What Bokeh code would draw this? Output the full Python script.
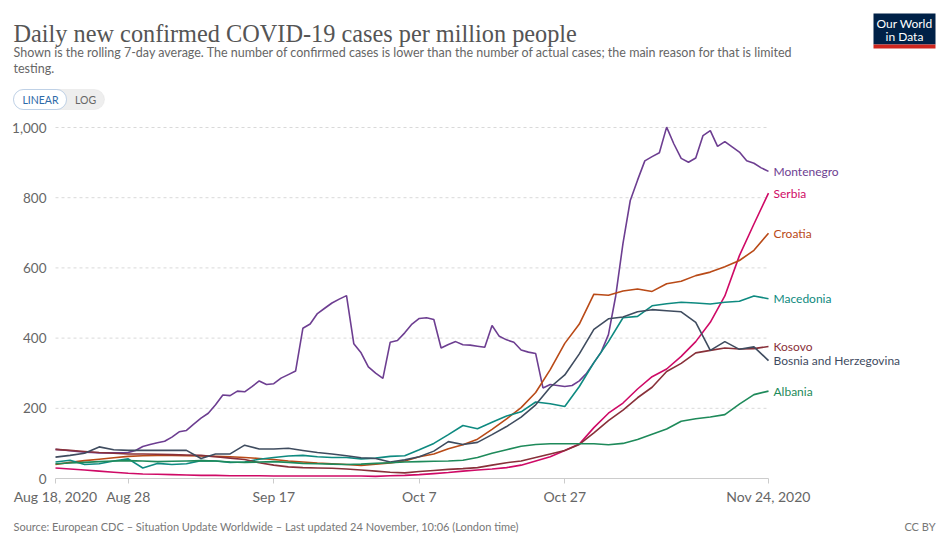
from datetime import datetime, timedelta
from bokeh.plotting import figure
from bokeh.models import Range1d, FixedTicker, NumeralTickFormatter, BoxAnnotation
from bokeh.core.properties import value
from bokeh.embed import file_html
from bokeh.resources import INLINE

# ---------------- data ----------------
start = datetime(2020, 8, 18)
end = datetime(2020, 11, 24)
dates_daily = [start + timedelta(days=i) for i in range(99)]
dates_2day = [start + timedelta(days=2 * i) for i in range(50)]

montenegro = [83, 81, 79, 77, 75, 74, 73, 73, 73, 73,
              74, 80, 91, 97, 102, 106, 118, 133, 137, 155,
              172, 186, 210, 238, 236, 249, 247, 262, 278, 268,
              270, 286, 296, 306, 428, 440, 470, 485, 500, 511,
              521, 384, 358, 318, 300, 285, 388, 393, 415, 440,
              456, 458, 453, 372, 382, 390, 381, 380, 377, 374,
              436, 405, 395, 388, 366, 360, 356, 258, 268, 265,
              262, 265, 278, 300, 330, 360, 410, 520, 670, 792,
              850, 905, 917, 928, 1001, 953, 912, 901, 913, 977,
              991, 946, 960, 945, 930, 905, 898, 885, 875]

serbia = [30, 27, 24, 21, 18, 15, 13, 12, 11, 10,
          9, 9, 8, 8, 8, 7, 7, 7, 7, 7,
          7, 7, 6, 8, 9, 11, 14, 17, 21, 24,
          27, 31, 38, 50, 62, 80, 98, 145, 186, 215,
          255, 290, 312, 348, 390, 445, 520, 635, 725, 813]

croatia = [40, 46, 51, 55, 59, 63, 65, 66, 66, 65,
           64, 63, 62, 60, 57, 54, 50, 47, 44, 42,
           40, 37, 41, 44, 50, 62, 70, 85, 96, 112,
           140, 170, 202, 245, 310, 385, 440, 525, 522, 534,
           540, 533, 555, 562, 578, 588, 603, 621, 650, 699]

macedonia = [47, 52, 40, 42, 50, 56, 30, 43, 40, 42,
             51, 50, 46, 47, 55, 60, 64, 66, 62, 60,
             60, 56, 58, 63, 65, 82, 100, 125, 151, 142,
             160, 178, 190, 218, 213, 205, 262, 330, 390, 458,
             462, 492, 498, 502, 500, 497, 502, 505, 520, 512]

kosovo = [83, 80, 77, 74, 72, 70, 70, 69, 68, 67,
          66, 62, 58, 54, 45, 38, 33, 31, 30, 29,
          27, 24, 21, 18, 16, 20, 23, 26, 28, 31,
          38, 45, 50, 60, 70, 80, 97, 130, 165, 195,
          230, 260, 305, 328, 358, 365, 372, 369, 370, 376]

bosnia = [61, 66, 72, 90, 82, 80, 80, 80, 80, 80,
          57, 70, 70, 95, 84, 84, 86, 80, 74, 70,
          65, 59, 57, 47, 53, 62, 78, 105, 97, 103,
          125, 148, 175, 210, 260, 295, 355, 425, 455, 460,
          475, 481, 478, 475, 445, 365, 390, 368, 375, 336]

albania = [42, 44, 46, 48, 50, 51, 50, 48, 49, 50,
           51, 50, 47, 46, 47, 48, 46, 43, 42, 41,
           40, 41, 43, 45, 47, 48, 49, 50, 52, 60,
           72, 82, 92, 97, 99, 99, 99, 99, 96, 100,
           111, 126, 141, 163, 170, 175, 182, 212, 239, 249]

series = [
    ("Montenegro", dates_daily, montenegro, "#6D3E91"),
    ("Serbia", dates_2day, serbia, "#CF0A66"),
    ("Croatia", dates_2day, croatia, "#B94A17"),
    ("Macedonia", dates_2day, macedonia, "#0E8A80"),
    ("Kosovo", dates_2day, kosovo, "#883039"),
    ("Bosnia and Herzegovina", dates_2day, bosnia, "#3F4C5F"),
    ("Albania", dates_2day, albania, "#1E8A5A"),
]

y_ticks = [0, 200, 400, 600, 800, 1000]
x_tick_dates = [datetime(2020, 8, 18), datetime(2020, 8, 28), datetime(2020, 9, 17),
                datetime(2020, 10, 7), datetime(2020, 10, 27), datetime(2020, 11, 24)]
x_tick_labels = ["Aug 18, 2020", "Aug 28", "Sep 17", "Oct 7", "Oct 27", "Nov 24, 2020"]

title = "Daily new confirmed COVID-19 cases per million people"
subtitle1 = ("Shown is the rolling 7-day average. The number of confirmed cases is lower than the "
             "number of actual cases; the main reason for that is limited")
subtitle2 = "testing."
source = ("Source: European CDC \u2013 Situation Update Worldwide \u2013 Last updated 24 November, "
          "10:06 (London time)")

# ---------------- page geometry (pixels) ----------------
W, H = 944, 536
FL, FR = 55, 768      # x of first / last date
TOP, BOT = 127, 478   # y of 1000 / 0
FONT = "Lato"


def ms(d):
    return (d - datetime(1970, 1, 1)).total_seconds() * 1000.0


x0, x1 = ms(start), ms(end)


def cx(px):
    return x0 + (px - FL) / (FR - FL) * (x1 - x0)


def cy(py):
    return (BOT - py) / (BOT - TOP) * 1000.0


p = figure(width=W, height=H, x_axis_type="datetime",
           x_range=Range1d(cx(0), cx(W)), y_range=Range1d(cy(H), cy(0)),
           output_backend="svg", toolbar_location=None,
           min_border=0, min_border_left=0, min_border_right=0,
           min_border_top=0, min_border_bottom=0)
p.outline_line_color = None
p.background_fill_color = "white"
p.border_fill_color = "white"
p.grid.visible = False

# dashed horizontal gridlines across the data span
grid_vals = [t for t in y_ticks if t > 0]
p.segment(x0=[start] * len(grid_vals), x1=[end] * len(grid_vals), y0=grid_vals, y1=grid_vals,
          line_color="#d9d9d9", line_dash="3 3", line_width=1)

# axes pinned inside the frame
p.yaxis.fixed_location = x0
p.yaxis.ticker = FixedTicker(ticks=y_ticks)
p.yaxis.formatter = NumeralTickFormatter(format="0,0")
p.yaxis.axis_line_color = None
p.yaxis.major_tick_line_color = None
p.yaxis.minor_tick_line_color = None
p.yaxis.major_label_text_font = FONT
p.yaxis.major_label_text_font_size = "13.5px"
p.yaxis.major_label_text_color = "#666666"
p.yaxis.major_label_standoff = 3

p.xaxis.fixed_location = 0
p.xaxis.ticker = FixedTicker(ticks=[ms(d) for d in x_tick_dates])
p.xaxis.major_label_overrides = {ms(d): t for d, t in zip(x_tick_dates, x_tick_labels)}
p.xaxis.bounds = (x0, x1)
p.xaxis.axis_line_color = "#cccccc"
p.xaxis.major_tick_line_color = "#cccccc"
p.xaxis.major_tick_out = 5
p.xaxis.major_tick_in = 0
p.xaxis.minor_tick_line_color = None
p.xaxis.major_label_text_font = FONT
p.xaxis.major_label_text_font_size = "14px"
p.xaxis.major_label_text_color = "#666666"
p.xaxis.major_label_standoff = 4

label_dx = (cx(FR + 5) - x1)
for name, xs, ys, col in series:
    p.line(xs, ys, line_color=col, line_width=1.6)
    p.text(x=[ms(xs[-1]) + label_dx], y=[ys[-1]], text=[name], text_color=col,
           text_font=value(FONT), text_font_size="12px",
           text_baseline="middle", text_align="left")

# ---------------- header ----------------
p.text(x=[cx(13)], y=[cy(33)], text=[title], text_font=value("Liberation Serif"),
       text_font_size="24.3px", text_color="#555555", text_baseline="alphabetic")
p.text(x=[cx(13), cx(13)], y=[cy(52), cy(68)], text=[subtitle1, subtitle2],
       text_font=value(FONT), text_font_size="12.5px", text_color="#666666",
       text_baseline="alphabetic")

# LINEAR / LOG toggle
p.add_layout(BoxAnnotation(left=cx(13), right=cx(104), top=cy(89), bottom=cy(109),
                           fill_color="#eeeeee", fill_alpha=1, line_color="#d6d6d6",
                           border_radius=10, level="underlay"))
p.add_layout(BoxAnnotation(left=cx(13), right=cx(66), top=cy(89), bottom=cy(109),
                           fill_color="white", fill_alpha=1, line_color="#3f7cbf",
                           border_radius=10, level="underlay"))
p.text(x=[cx(40)], y=[cy(99)], text=["LINEAR"], text_font=value(FONT), text_font_size="10.5px",
       text_color="#2e6aa8", text_baseline="middle", text_align="center")
p.text(x=[cx(85)], y=[cy(99)], text=["LOG"], text_font=value(FONT), text_font_size="10.5px",
       text_color="#666666", text_baseline="middle", text_align="center")

# logo
p.quad(left=[cx(873)], right=[cx(935)], top=[cy(13)], bottom=[cy(44)],
       fill_color="#002147", line_color=None)
p.quad(left=[cx(873)], right=[cx(935)], top=[cy(44)], bottom=[cy(48)],
       fill_color="#ce261e", line_color=None)
p.text(x=[cx(904), cx(904)], y=[cy(23), cy(36)], text=["Our World", "in Data"],
       text_font=value(FONT), text_font_size="12px", text_color="white",
       text_baseline="middle", text_align="center")

# ---------------- footer ----------------
p.text(x=[cx(13)], y=[cy(526)], text=[source], text_font=value(FONT), text_font_size="11px",
       text_color="#777777", text_baseline="alphabetic")
p.text(x=[cx(935)], y=[cy(526)], text=["CC BY"], text_font=value(FONT), text_font_size="11px",
       text_color="#777777", text_baseline="alphabetic", text_align="right")

open("out.html", "w").write(file_html(p, INLINE))
